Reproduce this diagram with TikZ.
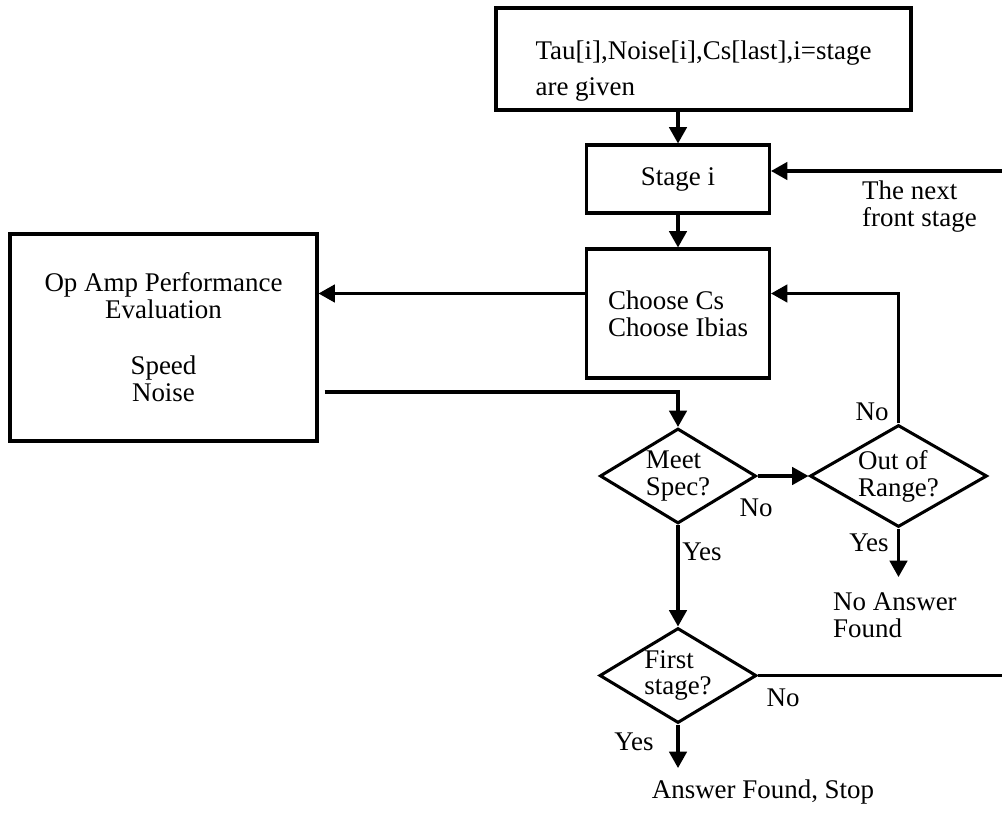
\documentclass[tikz,border=0pt]{standalone}
\usepackage{fontspec}
\setmainfont{Liberation Serif}
\usepackage{tikz}
\usetikzlibrary{arrows.meta,positioning,shapes.geometric,calc}

\begin{document}
\begin{tikzpicture}[
        box/.style={draw, line width=2.6pt, inner sep=0pt, align=left,
                    font=\fontsize{23pt}{23pt}\selectfont},
        dec/.style={draw, diamond, aspect=1.7, line width=2.6pt, inner sep=0pt, align=left,
                    font=\fontsize{23pt}{23pt}\selectfont},
        lbl/.style={inner sep=0pt, align=left, font=\fontsize{23pt}{23pt}\selectfont},
        arr/.style={-{Triangle[length=14pt,width=15pt]}, line width=2.6pt},
    ]
    \useasboundingbox (0,0) rectangle (30.06,-24.48);

    % Main column
    \node[box, minimum width=12.45cm, minimum height=3.06cm, text height=67pt] (given) at (21.105,-1.77)
        {Tau[i],Noise[i],Cs[last],i=stage\\[8pt]are given};
    \node[box, minimum width=5.49cm, minimum height=2.04cm] (stage) at (20.34,-5.37) {Stage i};
    \node[box, minimum width=5.49cm, minimum height=3.87cm] (choose) at (20.34,-9.405)
        {Choose Cs\\Choose Ibias};
    \draw[arr] (given.south -| stage.north) -- (stage.north);
    \draw[arr] (stage) -- (choose);

    % Evaluation box — left side
    \node[box, align=center, minimum width=9.21cm, minimum height=6.21cm] (eval) at (4.905,-10.125)
        {Op Amp Performance\\Evaluation\\[25pt]Speed\\Noise};

    % Decisions
    \node[dec, minimum width=4.68cm, minimum height=2.85cm] (meet) at (20.34,-14.28) {Meet\\Spec?};
    \node[dec, minimum width=5.31cm, minimum height=3.06cm] (range) at (26.955,-14.28) {Out of\\Range?};
    \node[dec, minimum width=4.71cm, minimum height=2.85cm] (first) at (20.34,-20.265) {First\\stage?};

    % Free ends
    \coordinate (noans) at (26.955,-17.31);
    \coordinate (stop) at (20.34,-23.04);
    \coordinate (loop) at (30.36,-5.13);

    % Arrows
    \draw[arr] ([yshift=6mm]choose.west) -- ([yshift=6mm]choose.west -| eval.east);
    \draw[arr] ([xshift=1.8mm,yshift=-16.35mm]eval.east) -| (meet.north);
    \draw[arr] (meet.east) -- (range.west);
    \draw[arr] (range.north) |- ([yshift=6mm]choose.east);
    \draw[arr] (range.south) -- (noans);
    \draw[arr] (meet.south) -- (first.north);
    \draw[arr] (first.south) -- (stop);
    \draw[arr] (first.east) -| (loop) -- (loop -| stage.east);

    % Labels
    \node[lbl, anchor=west] (nextlbl) at (25.86,-6.21) {The next\\front stage};
    \node[lbl] (rangeno) at (26.16,-12.36) {No};
    \node[lbl] (meetno) at (22.68,-15.24) {No};
    \node[lbl] (meetyes) at (21.06,-16.56) {Yes};
    \node[lbl] (rangeyes) at (26.07,-16.29) {Yes};
    \node[lbl, anchor=west] (noanslbl) at (24.99,-18.465) {No Answer\\Found};
    \node[lbl] (firstno) at (23.49,-20.94) {No};
    \node[lbl] (firstyes) at (19.02,-22.26) {Yes};
    \node[lbl] (stoplbl) at (22.89,-23.76) {Answer Found, Stop};
\end{tikzpicture}
\end{document}
